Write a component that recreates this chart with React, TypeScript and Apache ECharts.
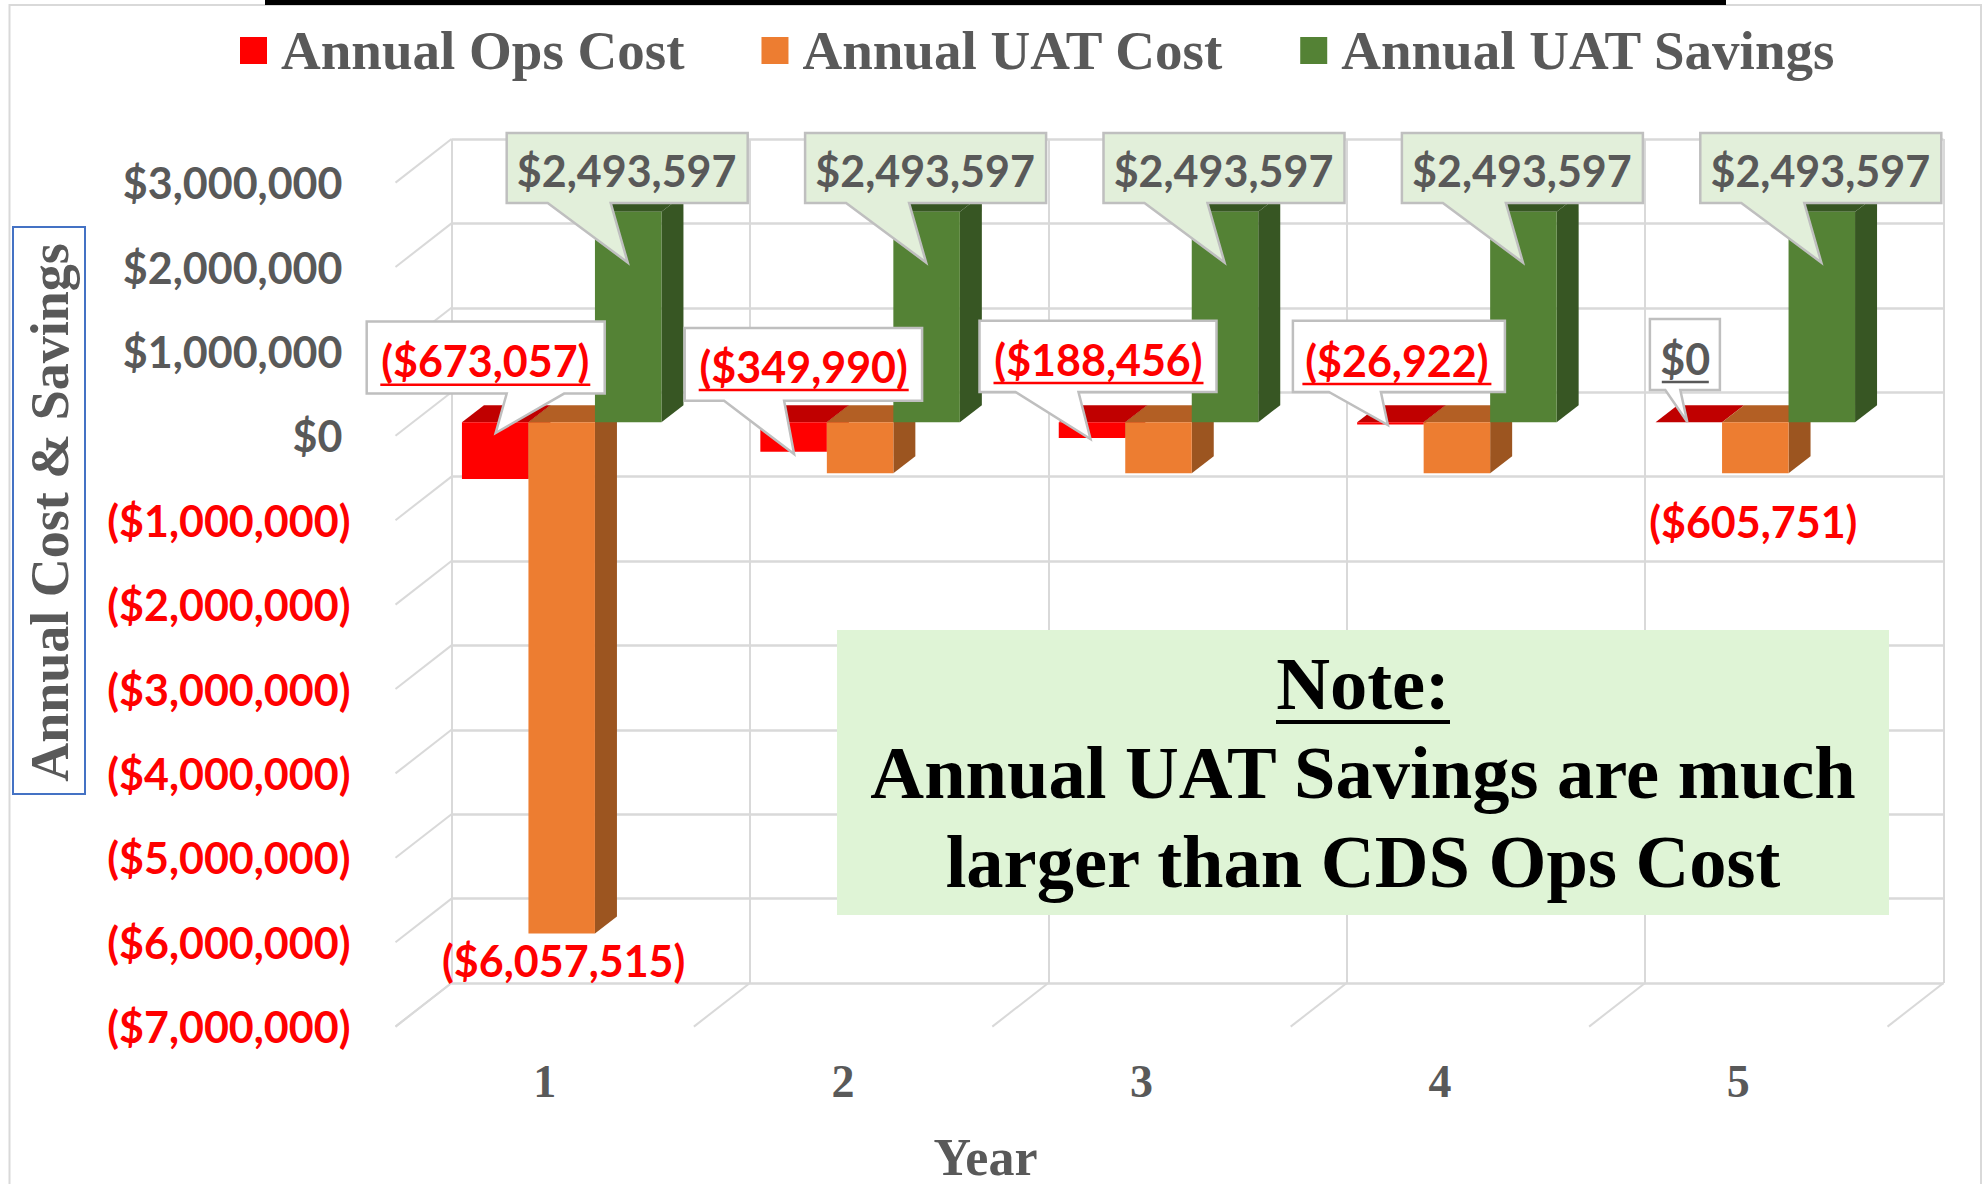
import React, { useEffect, useRef } from "react";
import * as echarts from "echarts";

const years = ["1", "2", "3", "4", "5"];
const opsCost = [-673057, -349990, -188456, -26922, 0];
const uatCost = [-6057515, -605751, -605751, -605751, -605751];
const uatSavings = [2493597, 2493597, 2493597, 2493597, 2493597];
const yTicks = [3000000, 2000000, 1000000, 0, -1000000, -2000000, -3000000, -4000000, -5000000, -6000000, -7000000];
const noteLines = ["Annual UAT Savings are much", "larger than CDS Ops Cost"];

const SANS = "Lato, 'Open Sans', sans-serif";
const SERIF = "'Liberation Serif', serif";
const GRAY = "#595959";
const GRID = "#d9d9d9";
const RED = "#ff0000";
const LABEL_SIZE = 43;
const LABEL_FONT = `bold ${LABEL_SIZE}px ${SANS}`;
const NOTE_FONT = `bold 74.5px ${SERIF}`;

// plot geometry
const WALL = { left: 451.5, top: 139, width: 1492, height: 844 };
const DEPTH = { x: 56, y: 43.6 };
const BAR_PLANE = { x: 17, y: -13.6 };
const BAR = { w: 66.5, dx: 22, dy: -17 };

const fmt = (v: number) => {
  const s = "$" + Math.abs(v).toLocaleString("en-US");
  return v < 0 ? `(${s})` : s;
};

// callout layout: x in pixels from the category's centre on the front plane, y absolute
type Callout = { box: number[]; tail: number[]; text: number[] };
const savingsCallout: Callout = { box: [-38, 133, 203, 203], tail: [3, 66, 83, 262.5], text: [82, 170] };
const opsCallouts: Callout[] = [
  { box: [-178, 321.4, 60, 393.6], tail: [-38, 19.4, -49, 433], text: [-59.4, 360.7] },
  { box: [-158.4, 328, 79, 400.7], tail: [-119, -59, -49, 454], text: [-39.4, 366] },
  { box: [-162, 320.7, 75, 392], tail: [-126, -63, -51, 439], text: [-43, 359] },
  { box: [-147, 320.7, 65, 392], tail: [-111, -59, -52, 425], text: [-43, 360] },
  { box: [-88.4, 319, -18.4, 390], tail: [-73, -58, -51, 422], text: [-53, 358] },
];
const costLabelOffsets: Record<number, number[]> = { 0: [19, 13], 4: [15, 35] };

function barRenderer(front: string, top: string, side: string, slot: number) {
  return (_: any, api: any) => {
    const c = api.coord([api.value(0), 0]);
    const v = api.coord([api.value(0), api.value(1)]);
    const x0 = c[0] + BAR_PLANE.x + (slot - 1.5) * BAR.w;
    const x1 = x0 + BAR.w;
    const y0 = c[1] + BAR_PLANE.y;
    const y1 = v[1] + BAR_PLANE.y;
    const yTop = Math.min(y0, y1);
    const yBot = Math.max(y0, y1);
    const { dx, dy } = BAR;
    return {
      type: "group",
      children: [
        { type: "polygon", shape: { points: [[x0, yTop], [x0 + dx, yTop + dy], [x1 + dx, yTop + dy], [x1, yTop]] }, style: { fill: top } },
        { type: "polygon", shape: { points: [[x1, yTop], [x1 + dx, yTop + dy], [x1 + dx, yBot + dy], [x1, yBot]] }, style: { fill: side } },
        { type: "rect", shape: { x: x0, y: yTop, width: BAR.w, height: yBot - yTop }, style: { fill: front } },
      ],
    };
  };
}

function calloutShape(center: number, c: Callout, txt: string, color: string, fill: string, underline: boolean) {
  const [l, t, r, b] = c.box.map((n, i) => (i % 2 === 0 ? center + n : n));
  const tl = center + c.tail[0];
  const tr = center + c.tail[1];
  const tipX = center + c.tail[2];
  const tipY = c.tail[3];
  const tx = center + c.text[0];
  const ty = c.text[1];
  const w = txt.length * 21 + (txt.length < 4 ? 5 : 0);
  const children: any[] = [
    {
      type: "polygon",
      shape: { points: [[l, t], [r, t], [r, b], [tr, b], [tipX, tipY], [tl, b], [l, b]] },
      style: { fill, stroke: "#bfbfbf", lineWidth: 2.5 },
    },
    {
      type: "text",
      style: { text: txt, x: tx, y: ty, fill: color, font: LABEL_FONT, align: "center", verticalAlign: "middle" },
    },
  ];
  if (underline) {
    children.push({
      type: "line",
      shape: { x1: tx - w / 2, y1: ty + 24, x2: tx + w / 2, y2: ty + 24 },
      style: { stroke: color, lineWidth: 2.5 },
    });
  }
  return { type: "group", children };
}

export default function App() {
  const ref = useRef<HTMLDivElement>(null);
  useEffect(() => {
    const chart = echarts.init(ref.current!, undefined, { renderer: "svg" });
    const band = WALL.width / years.length;
    const wallDiag = (_: any, api: any) => {
      const p = api.coord([0, api.value(0)]);
      const x = p[0] - band / 2;
      return {
        type: "line",
        shape: { x1: x, y1: p[1], x2: x + DEPTH.x, y2: p[1] - DEPTH.y },
        style: { stroke: GRID, lineWidth: 2 },
      };
    };
    const floorDiag = (_: any, api: any) => {
      const p = api.coord([0, -7000000]);
      const x = p[0] - band / 2 + api.value(0) * band;
      return {
        type: "line",
        shape: { x1: x, y1: p[1], x2: x + DEPTH.x, y2: p[1] - DEPTH.y },
        style: { stroke: GRID, lineWidth: 2 },
      };
    };
    const base = { type: "custom", xAxisIndex: 1, yAxisIndex: 1, silent: true };
    const richBase = { fontFamily: SANS, fontWeight: "bold", fontSize: LABEL_SIZE };
    const option: any = {
      animation: false,
      backgroundColor: "#ffffff",
      legend: {
        show: true,
        left: 235,
        top: 18,
        data: ["Annual Ops Cost", "Annual UAT Cost", "Annual UAT Savings"],
        icon: "rect",
        itemWidth: 27,
        itemHeight: 27,
        itemGap: 77,
        textStyle: { fontFamily: SERIF, fontWeight: "bold", fontSize: 55, color: GRAY, padding: [0, 0, 0, 9] },
      },
      grid: [
        { left: WALL.left, top: WALL.top, width: WALL.width, height: WALL.height },
        { left: WALL.left - DEPTH.x, top: WALL.top + DEPTH.y, width: WALL.width, height: WALL.height },
        { left: 395.5, top: 239, width: 1180, height: 567 },
      ],
      xAxis: [
        {
          gridIndex: 0,
          type: "category",
          data: years,
          axisLine: { show: false },
          axisTick: { show: false },
          axisLabel: { show: false },
          splitLine: { show: true, interval: 0, lineStyle: { color: GRID, width: 2 } },
        },
        {
          gridIndex: 1,
          type: "category",
          data: years,
          axisLine: { show: false },
          axisTick: { show: false },
          axisLabel: { interval: 0, margin: 32, fontFamily: SERIF, fontWeight: "bold", fontSize: 46, color: GRAY },
        },
        {
          gridIndex: 2,
          type: "value",
          min: 0,
          max: 1,
          name: "Year",
          nameLocation: "middle",
          nameGap: 345,
          nameTextStyle: { fontFamily: SERIF, fontWeight: "bold", fontSize: 52, color: GRAY },
          axisLine: { show: false },
          axisTick: { show: false },
          axisLabel: { show: false },
          splitLine: { show: false },
        },
      ],
      yAxis: [
        {
          gridIndex: 0,
          type: "value",
          min: -7000000,
          max: 3000000,
          interval: 1000000,
          axisLine: { show: false },
          axisTick: { show: false },
          axisLabel: { show: false },
          splitLine: { show: true, lineStyle: { color: GRID, width: 2.5 } },
        },
        {
          gridIndex: 1,
          type: "value",
          min: -7000000,
          max: 3000000,
          interval: 1000000,
          axisLine: { show: false },
          axisTick: { show: false },
          splitLine: { show: false },
          axisLabel: {
            margin: 45,
            formatter: (v: number) => (v < 0 ? `{n|${fmt(v)}}` : `{p|${fmt(v)}}`),
            rich: {
              n: { ...richBase, color: RED },
              p: { ...richBase, color: GRAY, padding: [0, 8, 0, 0] },
            },
          },
        },
        {
          gridIndex: 2,
          type: "value",
          min: 0,
          max: 1,
          name: "Annual Cost & Savings",
          nameLocation: "middle",
          nameRotate: 90,
          nameGap: 319,
          nameTextStyle: {
            fontFamily: SERIF,
            fontWeight: "bold",
            fontSize: 54,
            color: GRAY,
          },
          axisLine: { show: false },
          axisTick: { show: false },
          axisLabel: { show: false },
          splitLine: { show: false },
        },
      ],
      graphic: [
        { type: "rect", shape: { x: 265, y: 0, width: 1461, height: 5 }, style: { fill: "#000" }, z: 10 },
        { type: "polyline", shape: { points: [[9.5, 1184], [9.5, 5], [1981, 5], [1981, 1184]] }, style: { stroke: GRID, lineWidth: 2, fill: "none" }, z: 1 },
        { type: "rect", shape: { x: 13, y: 227, width: 72, height: 567 }, style: { fill: "none", stroke: "#4472c4", lineWidth: 2 }, z: 10 },
        { type: "rect", shape: { x: 837, y: 630, width: 1052, height: 285 }, style: { fill: "#dff4d6" }, z: 20 },
        { type: "text", style: { text: "Note:", x: 1363, y: 684, font: NOTE_FONT, fill: "#000", align: "center", verticalAlign: "middle" }, z: 21 },
        { type: "line", shape: { x1: 1276, y1: 722, x2: 1450, y2: 722 }, style: { stroke: "#000", lineWidth: 4 }, z: 21 },
        { type: "text", style: { text: noteLines[0], x: 1363, y: 773, font: NOTE_FONT, fill: "#000", align: "center", verticalAlign: "middle" }, z: 21 },
        { type: "text", style: { text: noteLines[1], x: 1363, y: 862, font: NOTE_FONT, fill: "#000", align: "center", verticalAlign: "middle" }, z: 21 },
      ],
      series: [
        { ...base, name: "wall", z: 1, data: yTicks.map((v) => [v]), encode: { y: 0 }, renderItem: wallDiag },
        { ...base, name: "floor", z: 1, data: [0, 1, 2, 3, 4, 5].map((i) => [i]), encode: { x: 0 }, renderItem: floorDiag },
        {
          ...base,
          name: "Annual Ops Cost",
          z: 3,
          itemStyle: { color: RED },
          data: opsCost.map((v, i) => [i, v]),
          encode: { x: 0, y: 1 },
          renderItem: barRenderer(RED, "#c00000", "#a00000", 0),
        },
        {
          ...base,
          name: "Annual UAT Cost",
          z: 4,
          itemStyle: { color: "#ed7d31" },
          data: uatCost.map((v, i) => [i, v]),
          encode: { x: 0, y: 1 },
          renderItem: barRenderer("#ed7d31", "#b35f24", "#9c5520", 1),
        },
        {
          ...base,
          name: "Annual UAT Savings",
          z: 5,
          itemStyle: { color: "#548235" },
          data: uatSavings.map((v, i) => [i, v]),
          encode: { x: 0, y: 1 },
          renderItem: barRenderer("#548235", "#375623", "#375623", 2),
        },
        {
          ...base,
          name: "savings labels",
          z: 6,
          data: uatSavings.map((v, i) => [i, v]),
          encode: { x: 0, y: 1 },
          renderItem: (_: any, api: any) => {
            const cx = api.coord([api.value(0), 0])[0];
            return calloutShape(cx, savingsCallout, fmt(api.value(1)), GRAY, "#e2efda", false);
          },
        },
        {
          ...base,
          name: "ops labels",
          z: 7,
          data: opsCost.map((v, i) => [i, v]),
          encode: { x: 0, y: 1 },
          renderItem: (_: any, api: any) => {
            const i = api.value(0);
            const v = api.value(1);
            const cx = api.coord([i, 0])[0];
            return calloutShape(cx, opsCallouts[i], fmt(v), v < 0 ? RED : GRAY, "#ffffff", true);
          },
        },
        {
          ...base,
          name: "cost labels",
          z: 7,
          data: [[0, uatCost[0]], [4, uatCost[4]]],
          encode: { x: 0, y: 1 },
          renderItem: (_: any, api: any) => {
            const i = api.value(0);
            const p = api.coord([i, api.value(1)]);
            const off = costLabelOffsets[i];
            return {
              type: "text",
              style: {
                text: fmt(api.value(1)),
                x: p[0] + off[0],
                y: p[1] + off[1],
                fill: RED,
                font: LABEL_FONT,
                align: "center",
                verticalAlign: "middle",
              },
            };
          },
        },
      ],
    };
    chart.setOption(option);
    return () => chart.dispose();
  }, []);
  return <div ref={ref} style={{ position: "absolute", left: 0, top: 0, width: 1986, height: 1184 }} />;
}
